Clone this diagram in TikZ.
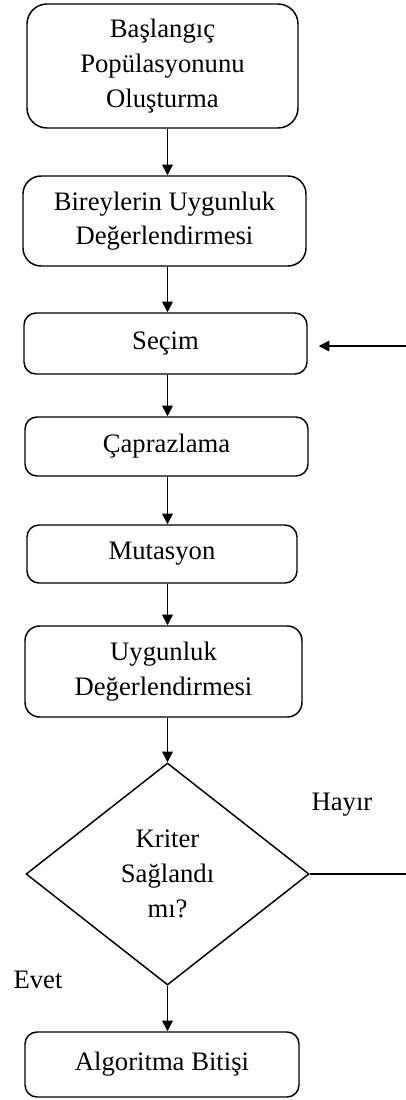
\documentclass[tikz,border=0pt]{standalone}
\usepackage{fontspec}
\setmainfont{Liberation Serif}
\usetikzlibrary{shapes.geometric,arrows.meta}

\begin{document}
\begin{tikzpicture}[x=0.75pt,y=-0.75pt,
  every node/.style={font=\fontsize{20}{26}\selectfont, align=center, inner sep=0pt},
  stepbox/.style n args={3}{draw, line width=1.1pt, rounded corners=#3,
    minimum width=#1, minimum height=#2},
  decision/.style={draw, line width=1.1pt, diamond, shape aspect=1.275,
    minimum width=212.25pt, minimum height=166.5pt},
  arr/.style={line width=1.1pt, -{Triangle[length=8pt,width=8pt]}},
  link/.style={line width=1.1pt}]

  \useasboundingbox (0,0) rectangle (406,1100);

  % process steps
  \node[stepbox={203.25pt}{93pt}{15pt}]   (b1) at (162.5,66)    {Başlangıç\\Popülasyonunu\\Oluşturma};
  \node[stepbox={212.25pt}{67.5pt}{13.5pt}] (b2) at (164.5,221) {Bireylerin Uygunluk\\Değerlendirmesi};
  \node[stepbox={212.25pt}{45.75pt}{9pt}] (b3) at (165.5,343.5) {Seçim};
  \node[stepbox={212.25pt}{44.25pt}{9pt}] (b4) at (166.5,446.5) {Çaprazlama};
  \node[stepbox={202.5pt}{43.5pt}{9pt}]   (b5) at (162,554)     {Mutasyon};
  \node[stepbox={207.75pt}{68.25pt}{11pt}] (b6) at (163.5,671.5) {Uygunluk\\Değerlendirmesi};
  \node[decision] (d) at (167.5,874) {Kriter\\Sağlandı\\mı?};
  \node[stepbox={205.5pt}{48.75pt}{9pt}]  (b7) at (162,1064.5)  {Algoritma Bitişi};

  % branch labels
  \node (hayir) at (342,805) {Hayır};
  \node (evet)  at (38,980)  {Evet};

  % main flow column and loop ends
  \coordinate (col) at (167.5,0);
  \coordinate (loopin) at (406,346);
  \coordinate (loopout) at (406,874);

  \draw[arr] (b1.south -| col) -- (b2.north -| col);
  \draw[arr] (b2.south -| col) -- (b3.north -| col);
  \draw[arr] (b3.south -| col) -- (b4.north -| col);
  \draw[arr] (b4.south -| col) -- (b5.north -| col);
  \draw[arr] (b5.south -| col) -- (b6.north -| col);
  \draw[arr] (b6.south -| d.north) -- (d.north);
  \draw[arr] (d.south) -- (b7.north -| d.south);

  % loop back to selection
  \draw[link] (d.east) -- (loopout);
  \draw[arr, shorten >=8.25pt] (loopin) -- (loopin -| b3.east);
\end{tikzpicture}
\end{document}
